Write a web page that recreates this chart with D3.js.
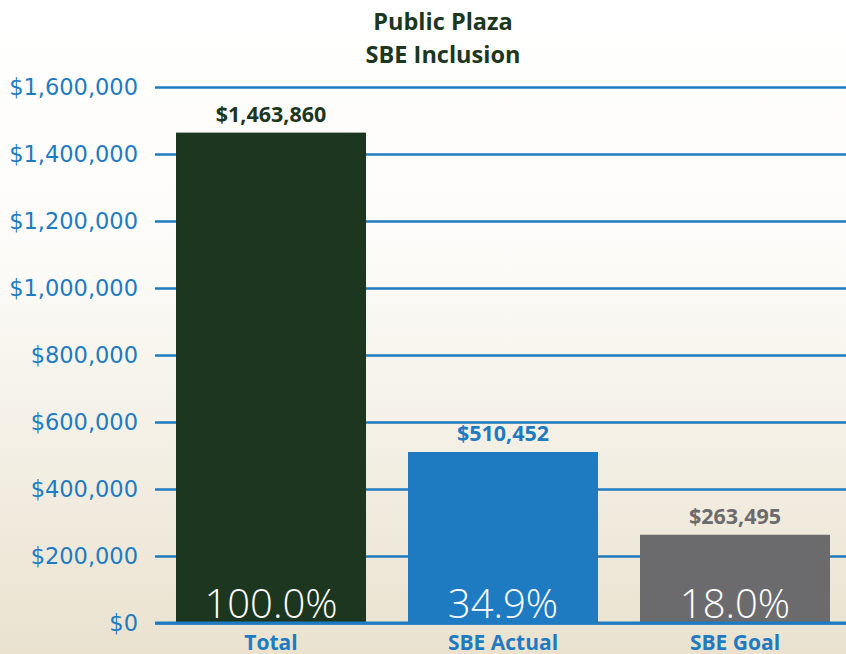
<!DOCTYPE html>
<html>
<head>
<meta charset="utf-8">
<script src="https://cdn.jsdelivr.net/npm/d3@7"></script>
<style>
  body { margin: 0; }
  svg { display: block; }
</style>
</head>
<body>
<div id="chart"></div>
<script>
const categories = ['Total', 'SBE Actual', 'SBE Goal']
const values = [1463860, 510452, 263495]
const percentLabels = ['100.0%', '34.9%', '18.0%']
const tickValues = [0, 200000, 400000, 600000, 800000, 1000000, 1200000, 1400000, 1600000]
const barColors = ['#1c3620', '#1e7bc2', '#6b6b6e']

const width = 846
const height = 654
const font = '"Open Sans", "DejaVu Sans", sans-serif'

const svg = d3.select('#chart').append('svg')
  .attr('width', width)
  .attr('height', height)

// background fade
const grad = svg.append('defs').append('linearGradient')
  .attr('id', 'bg')
  .attr('x1', 0).attr('y1', 0).attr('x2', 0).attr('y2', 1)
grad.append('stop').attr('offset', '0%').attr('stop-color', '#ffffff')
grad.append('stop').attr('offset', '40%').attr('stop-color', '#fcfbf8')
grad.append('stop').attr('offset', '100%').attr('stop-color', '#eae2cf')

svg.append('rect')
  .attr('width', width)
  .attr('height', height)
  .attr('fill', 'url(#bg)')

const x = d3.scaleBand()
  .domain(categories)
  .range([155, 851])
  .paddingInner(0.181)
  .paddingOuter(0.0905)

const y = d3.scaleLinear()
  .domain([0, 1600000])
  .range([623, 87])

// gridlines + tick labels
const yAxis = d3.axisLeft(y)
  .tickValues(tickValues)
  .tickSize(-(width - 155))
  .tickFormat(d => '$' + d3.format(',')(d))

const axisG = svg.append('g')
  .attr('transform', 'translate(155,0)')
  .call(yAxis)
axisG.select('.domain').remove()
axisG.selectAll('.tick line')
  .attr('stroke', '#1e7bc2')
  .attr('stroke-width', 2.5)
axisG.selectAll('.tick text')
  .attr('x', -17)
  .attr('fill', '#1e7bc2')
  .style('font-family', '"DejaVu Sans", sans-serif')
  .style('font-size', '22.5px')

// bars
const bars = svg.append('g').selectAll('g.bar')
  .data(values)
  .enter()
  .append('g')
  .attr('class', 'bar')

bars.append('rect')
  .attr('x', (d, i) => x(categories[i]))
  .attr('y', d => y(d))
  .attr('width', x.bandwidth())
  .attr('height', d => y(0) - y(d))
  .attr('fill', (d, i) => barColors[i])

bars.append('text')
  .attr('x', (d, i) => x(categories[i]) + x.bandwidth() / 2)
  .attr('y', d => y(d) - 11)
  .attr('text-anchor', 'middle')
  .attr('fill', (d, i) => barColors[i])
  .style('font-family', font)
  .style('font-weight', 'bold')
  .style('font-size', '21.5px')
  .text(d => '$' + d3.format(',')(d))

bars.append('text')
  .attr('x', (d, i) => x(categories[i]) + x.bandwidth() / 2)
  .attr('y', y(0) - 5)
  .attr('text-anchor', 'middle')
  .attr('fill', '#ffffff')
  .style('font-family', font)
  .style('font-weight', 300)
  .style('font-size', '40px')
  .text((d, i) => percentLabels[i])

// baseline
svg.append('line')
  .attr('x1', 155)
  .attr('x2', width)
  .attr('y1', y(0))
  .attr('y2', y(0))
  .attr('stroke', '#1e7bc2')
  .attr('stroke-width', 3)

// category labels
svg.append('g').selectAll('text')
  .data(categories)
  .enter()
  .append('text')
  .attr('x', d => x(d) + x.bandwidth() / 2)
  .attr('y', 650)
  .attr('text-anchor', 'middle')
  .attr('fill', '#1e7bc2')
  .style('font-family', font)
  .style('font-weight', 'bold')
  .style('font-size', '21px')
  .text(d => d)

// title
const title = svg.append('text')
  .attr('x', 443)
  .attr('text-anchor', 'middle')
  .attr('fill', '#1c3620')
  .style('font-family', font)
  .style('font-weight', 'bold')
  .style('font-size', '23.5px')
title.append('tspan').attr('x', 443).attr('y', 30).text('Public Plaza')
title.append('tspan').attr('x', 443).attr('y', 63).text('SBE Inclusion')
</script>
</body>
</html>
